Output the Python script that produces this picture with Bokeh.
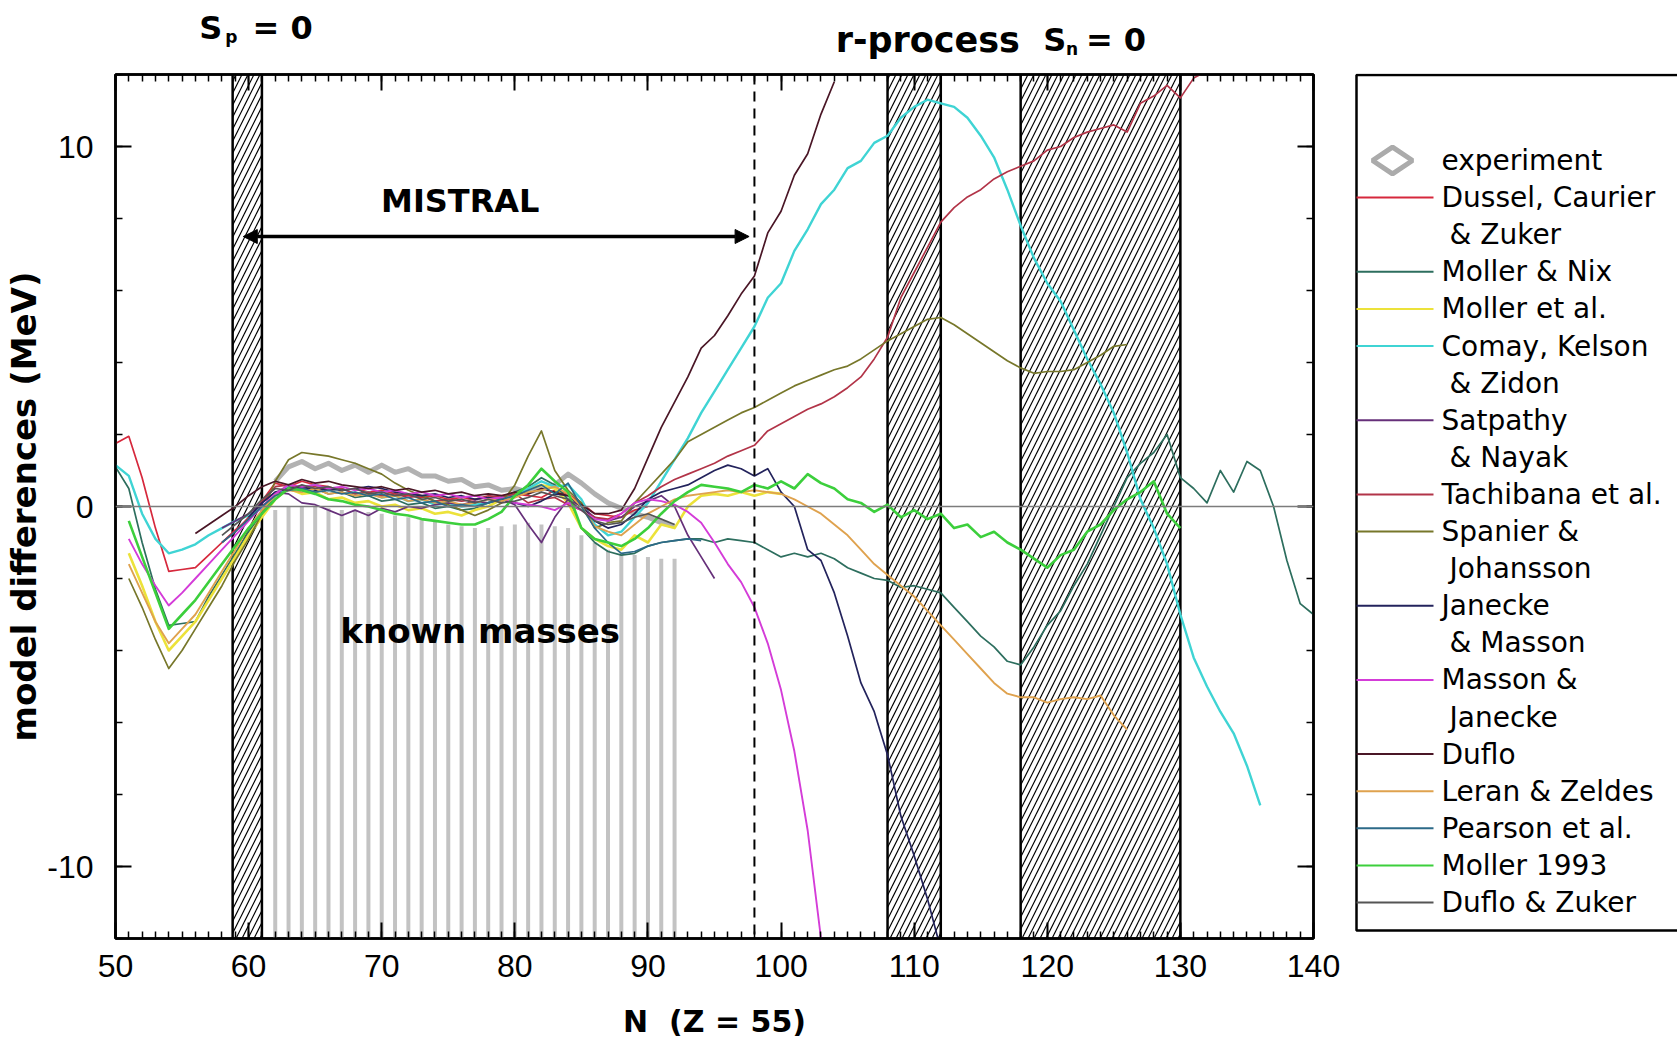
import math
from bokeh.plotting import figure
from bokeh.models import (Range1d, LinearAxis, FixedTicker, Span, Label, Arrow, NormalHead,
                          CustomLabelingPolicy)
from bokeh.layouts import row, column
from bokeh.embed import file_html
from bokeh.resources import INLINE
from bokeh.core.properties import value

# ---------------- data ----------------
# experiment (known masses), N = 62 .. 92
exp_start = 62
experiment = [0.7, 1.1, 1.25, 1.05, 1.2, 1.0, 1.15, 0.95, 1.15, 0.95, 1.05, 0.85, 0.85, 0.7, 0.75,
              0.55, 0.6, 0.45, 0.5, 0.4, 0.5, 0.6, 0.9, 0.65, 0.35, 0.1, -0.05, -0.2, -0.3, -0.45, -0.55]
known_top = [-0.1, 0.0, 0.0, 0.0, -0.05, -0.1, -0.1, -0.15, -0.2, -0.25, -0.3, -0.35, -0.4, -0.5, -0.55,
             -0.6, -0.6, -0.55, -0.5, -0.45, -0.5, -0.55, -0.6, -0.8, -1.0, -1.2, -1.3, -1.35, -1.4, -1.45, -1.45]

dussel_start = 50
dussel = [1.75, 1.95, 0.8, -0.6, -1.8, -1.75, -1.7, -1.35, -1.0, -0.65, -0.35, 0.15, 0.65, 0.55, 0.7, 0.6,
          0.55, 0.45, 0.5, 0.4, 0.45, 0.35, 0.3, 0.25, 0.3, 0.2, 0.25, 0.2, 0.25, 0.3, 0.35, 0.3, 0.25, 0.45,
          0.35, 0.1, -0.2, -0.25, -0.3, -0.1, 0.0]

moller_nix_start = 50
moller_nix = [1.1, 0.5, -1.0, -2.3, -3.3, -3.25, -3.2, -2.5, -1.9, -1.3, -0.7, -0.2, 0.3, 0.55, 0.45, 0.5,
              0.35, 0.4, 0.25, 0.3, 0.15, 0.2, 0.05, 0.1, -0.05, 0.0, -0.1, -0.05, 0.1, 0.25, 0.4, 0.55, 0.8,
              0.6, 0.2, -0.6, -1.0, -1.25, -1.35, -1.3, -1.1, -1.0, -0.95, -0.9, -0.9, -1.0, -0.9, -0.95, -1.0,
              -1.2, -1.4, -1.3, -1.4, -1.3, -1.45, -1.7, -1.85, -2.0, -2.05, -2.25, -2.2, -2.3, -2.4, -2.8,
              -3.2, -3.6, -3.9, -4.3, -4.4, -3.9, -3.3, -2.9, -2.2, -1.6, -0.8, 0.0, 0.8, 1.2, 1.5, 2.0, 0.8,
              0.5, 0.1, 1.0, 0.4, 1.25, 1.0, 0.0, -1.5, -2.7, -3.0]

moller_etal_start = 51
moller_etal = [-1.3, -2.2, -3.2, -4.0, -3.6, -3.2, -2.6, -2.0, -1.4, -0.8, -0.3, 0.2, 0.5, 0.35, 0.4, 0.2,
               0.25, 0.1, 0.15, 0.0, 0.05, -0.1, -0.05, -0.2, -0.15, -0.25, -0.1, 0.0, 0.2, 0.35, 0.5, 0.6,
               0.5, 0.1, -0.6, -0.9, -1.1, -1.2, -0.8, -1.0, -0.5, -0.6, 0.0, 0.3, 0.35, 0.3, 0.4, 0.3, 0.4, 0.35]

comay_start = 50
comay = [1.15, 0.85, -0.2, -0.9, -1.3, -1.2, -1.05, -0.8, -0.6, -0.4, -0.25, -0.05, 0.3, 0.6, 0.5, 0.6,
         0.45, 0.5, 0.35, 0.4, 0.25, 0.3, 0.15, 0.2, 0.05, 0.1, 0.0, 0.05, 0.1, 0.25, 0.3, 0.5, 0.7, 0.55,
         0.6, 0.2, -0.5, -0.8, -0.7, -0.3, 0.1, 0.7, 1.3, 1.9, 2.6, 3.2, 3.8, 4.4, 5.0, 5.8, 6.2, 7.1, 7.7,
         8.4, 8.8, 9.4, 9.6, 10.1, 10.3, 10.8, 11.1, 11.3, 11.2, 11.1, 10.8, 10.3, 9.7, 8.8, 7.8, 6.9, 6.2,
         5.7, 4.9, 4.1, 3.4, 2.6, 1.5, 0.2, -0.6, -1.6, -3.0, -4.2, -5.0, -5.7, -6.3, -7.2, -8.3]

satpathy_start = 58
satpathy = [-0.6, -0.4, -0.2, 0.1, 0.4, 0.35, 0.1, 0.05, -0.1, -0.25, -0.1, -0.25, -0.05, -0.15, 0.0,
            -0.05, 0.05, 0.1, 0.05, 0.15, 0.1, 0.2, 0.05, -0.5, -1.0, -0.3, 0.2, 0.0, -0.3, -0.4, -0.3,
            0.0, 0.15, 0.3, 0.0, -0.8, -1.4, -2.0]

tachibana_start = 58
tachibana = [-1.0, -0.7, -0.3, 0.1, 0.55, 0.6, 0.5, 0.55, 0.45, 0.5, 0.35, 0.4, 0.3, 0.35, 0.25, 0.3,
             0.15, 0.2, 0.15, 0.2, 0.3, 0.25, 0.35, 0.1, 0.2, 0.25, 0.05, -0.1, -0.3, -0.35, -0.2, 0.1,
             0.3, 0.55, 0.75, 0.9, 1.05, 1.2, 1.4, 1.55, 1.7, 2.1, 2.3, 2.5, 2.7, 2.85, 3.05, 3.3, 3.6,
             4.1, 4.7, 5.8, 6.5, 7.2, 7.9, 8.3, 8.6, 8.8, 9.1, 9.3, 9.45, 9.6, 9.9, 10.0, 10.25, 10.4,
             10.5, 10.6, 10.4, 11.2, 11.4, 11.7, 11.35, 11.9, 12.1]

spanier_start = 51
spanier = [-2.0, -2.8, -3.7, -4.5, -4.0, -3.4, -2.8, -2.2, -1.5, -0.9, -0.2, 0.7, 1.3, 1.5, 1.45, 1.4,
           1.3, 1.2, 1.05, 0.9, 0.65, 0.45, 0.3, 0.15, 0.05, -0.1, -0.25, -0.1, 0.1, 0.6, 1.4, 2.1, 1.0,
           0.45, 0.1, -0.6, -0.45, -0.4, 0.1, 0.5, 0.9, 1.3, 1.8, 2.0, 2.2, 2.4, 2.6, 2.75, 2.95, 3.15,
           3.35, 3.5, 3.65, 3.8, 3.9, 4.1, 4.35, 4.6, 4.8, 5.0, 5.2, 5.25, 5.05, 4.8, 4.55, 4.3, 4.05,
           3.85, 3.7, 3.75, 3.75, 3.8, 4.0, 4.2, 4.45, 4.5]

janecke_masson_start = 60
janecke_masson = [-0.3, 0.1, 0.4, 0.5, 0.55, 0.45, 0.5, 0.45, 0.5, 0.55, 0.5, 0.4, 0.35, 0.3, 0.35, 0.25,
                  0.3, 0.2, 0.25, 0.2, 0.1, 0.0, 0.15, 0.35, 0.3, 0.0, -0.4, -0.6, -0.5, -0.2, 0.2, 0.4,
                  0.5, 0.6, 0.8, 1.0, 1.15, 1.05, 0.85, 1.05, 0.4, 0.0, -1.2, -1.5, -2.4, -3.6, -4.9, -5.7,
                  -6.9, -8.6, -9.7, -10.9, -12.3]

masson_janecke_start = 51
masson_janecke = [-0.9, -1.6, -2.2, -2.75, -2.4, -2.0, -1.6, -1.2, -0.8, -0.4, 0.0, 0.35, 0.6, 0.55, 0.6,
                  0.5, 0.55, 0.45, 0.5, 0.4, 0.45, 0.35, 0.4, 0.3, 0.35, 0.25, 0.3, 0.2, 0.25, 0.1, 0.05,
                  0.0, -0.1, 0.1, -0.1, -0.35, -0.4, -0.2, 0.1, 0.2, 0.15, 0.05, -0.15, -0.45, -1.0, -1.6,
                  -2.1, -2.8, -3.8, -5.1, -6.8, -9.0, -12.0]

duflo_start = 56
duflo = [-0.75, -0.5, -0.25, 0.0, 0.3, 0.55, 0.7, 0.6, 0.75, 0.65, 0.7, 0.6, 0.55, 0.5, 0.55, 0.45, 0.5,
         0.4, 0.45, 0.35, 0.4, 0.3, 0.35, 0.3, 0.4, 0.35, 0.5, 0.4, 0.3, 0.05, -0.2, -0.2, -0.1, 0.5, 1.35,
         2.2, 2.9, 3.6, 4.4, 4.75, 5.3, 5.9, 6.4, 7.6, 8.2, 9.2, 9.8, 10.9, 11.8]

leran_start = 51
leran = [-1.6, -2.4, -3.2, -3.8, -3.4, -3.0, -2.4, -1.8, -1.2, -0.6, -0.1, 0.3, 0.45, 0.4, 0.5, 0.35, 0.4,
         0.3, 0.35, 0.25, 0.3, 0.15, 0.2, 0.1, 0.15, 0.05, 0.1, 0.2, 0.15, 0.25, 0.4, 0.45, 0.55, 0.35, 0.0,
         -0.55, -0.7, -0.8, -0.5, -0.2, 0.0, 0.2, 0.3, 0.35, 0.4, 0.45, 0.4, 0.45, 0.4, 0.35, 0.2, 0.0,
         -0.2, -0.5, -0.8, -1.2, -1.6, -1.9, -2.2, -2.5, -2.9, -3.3, -3.7, -4.1, -4.5, -4.9, -5.2, -5.3,
         -5.3, -5.45, -5.35, -5.3, -5.35, -5.25, -5.8, -6.2]

pearson_start = 58
pearson = [-1.0, -0.7, -0.35, 0.0, 0.3, 0.45, 0.5, 0.4, 0.45, 0.35, 0.4, 0.3, 0.35, 0.2, 0.25, 0.1, 0.15,
           0.0, 0.05, 0.0, 0.1, 0.2, 0.3, 0.45, 0.6, 0.35, 0.65, 0.0, -0.6, -1.0, -1.3, -1.25, -1.1, -1.0,
           -0.95, -0.9, -0.95]

moller1993_start = 51
moller1993 = [-0.4, -1.4, -2.4, -3.4, -3.0, -2.6, -2.1, -1.6, -1.1, -0.6, -0.2, 0.2, 0.5, 0.45, 0.35, 0.2,
              0.15, 0.05, 0.0, -0.1, -0.2, -0.25, -0.35, -0.4, -0.45, -0.5, -0.5, -0.35, -0.15, 0.3, 0.6,
              1.05, 0.7, 0.4, -0.6, -0.9, -1.0, -1.1, -0.9, -0.6, -0.2, 0.15, 0.4, 0.6, 0.55, 0.5, 0.4, 0.6,
              0.5, 0.7, 0.5, 0.9, 0.65, 0.5, 0.2, 0.1, -0.15, 0.05, -0.3, -0.1, -0.35, -0.2, -0.6, -0.5,
              -0.85, -0.7, -1.0, -1.2, -1.45, -1.7, -1.35, -1.2, -0.7, -0.5, -0.1, 0.2, 0.4, 0.7, -0.2, -0.6]

duflo_zuker_start = 58
duflo_zuker = [-0.8, -0.5, -0.2, 0.2, 0.5, 0.45, 0.6, 0.5, 0.55, 0.45, 0.5, 0.35, 0.4, 0.3, 0.35, 0.2, 0.25,
               0.15, 0.2, 0.1, 0.2, 0.1, 0.15, 0.25, 0.4, 0.3, 0.2, -0.1, -0.4, -0.5, -0.45, -0.3, -0.2,
               -0.35, -0.5]

# hatched regions (drip lines / r-process path)
band_left = [58.8, 108, 118]
band_right = [61, 112, 130]
mistral_limit = 98

# ---------------- styling ----------------
models = [
    (["Dussel, Caurier", "& Zuker"], dussel_start, dussel, "#d6283c", 1.7),
    (["Moller & Nix"], moller_nix_start, moller_nix, "#2d6e5e", 1.7),
    (["Moller et al."], moller_etal_start, moller_etal, "#ece23a", 2.6),
    (["Comay, Kelson", "& Zidon"], comay_start, comay, "#3fd4d4", 2.4),
    (["Satpathy", "& Nayak"], satpathy_start, satpathy, "#66307a", 1.7),
    (["Tachibana et al."], tachibana_start, tachibana, "#b23448", 1.7),
    (["Spanier &", "Johansson"], spanier_start, spanier, "#77772a", 1.7),
    (["Janecke", "& Masson"], janecke_masson_start, janecke_masson, "#23235c", 1.7),
    (["Masson &", "Janecke"], masson_janecke_start, masson_janecke, "#d43cd8", 1.9),
    (["Duflo"], duflo_start, duflo, "#4a1626", 1.7),
    (["Leran & Zeldes"], leran_start, leran, "#dfa24e", 1.9),
    (["Pearson et al."], pearson_start, pearson, "#2c6a88", 1.7),
    (["Moller 1993"], moller1993_start, moller1993, "#3ccf3c", 2.6),
    (["Duflo & Zuker"], duflo_zuker_start, duflo_zuker, "#555555", 1.7),
]

FONT = "DejaVu Sans"
TICKFONT = "Liberation Sans"
HEAD_H = 70

x_range = Range1d(50, 140)

# ---------------- header (texts above the frame) ----------------
head = figure(width=1340, height=HEAD_H, x_range=x_range, y_range=Range1d(HEAD_H, 0),
              output_backend="svg", toolbar_location=None, title_location=None,
              min_border_left=115, min_border_right=27, min_border_top=0, min_border_bottom=0,
              x_axis_location=None, y_axis_location=None)
head.xgrid.visible = False
head.ygrid.visible = False
head.outline_line_color = None

def htext(x, y, t, size):
    head.text(x=[x], y=[y], text=[t], text_font=value(FONT), text_font_style="bold",
              text_font_size=size, text_align="left", text_baseline="alphabetic",
              text_color="black")

htext(56.3, 27, "S", "32px")
htext(58.25, 36, "p", "17px")
htext(60.3, 27, "= 0", "32px")
htext(104.1, 39, "r-process", "35px")
htext(119.7, 39, "S", "32px")
htext(121.4, 48, "n", "17px")
htext(122.9, 39, "= 0", "32px")

# ---------------- main plot ----------------
p = figure(width=1340, height=1050 - HEAD_H, x_range=x_range, y_range=Range1d(-12, 12),
           output_backend="svg", toolbar_location=None,
           min_border_left=115, min_border_right=27, min_border_top=3, min_border_bottom=112)
p.xgrid.visible = False
p.ygrid.visible = False
p.outline_line_color = "black"
p.outline_line_width = 2.5

xticker = FixedTicker(ticks=list(range(50, 141, 10)), minor_ticks=list(range(50, 141)))
yticker = FixedTicker(ticks=[-10, 0, 10], minor_ticks=list(range(-12, 13, 2)))

p.add_layout(LinearAxis(), "above")
p.add_layout(LinearAxis(), "right")

for ax in p.xaxis:
    ax.ticker = xticker
for ax in p.yaxis:
    ax.ticker = yticker

for ax in p.xaxis + p.yaxis:
    ax.axis_line_width = 2.5
    ax.axis_line_color = "black"
    ax.major_tick_in = 16
    ax.major_tick_out = 0
    ax.minor_tick_in = 7
    ax.minor_tick_out = 0
    ax.major_tick_line_width = 2
    ax.minor_tick_line_width = 1.5
    ax.major_label_text_font = TICKFONT
    ax.major_label_text_font_size = "32px"
    ax.major_label_text_color = "black"

p.below[0].major_label_standoff = 16
p.left[0].major_label_standoff = 22
p.left[0].major_label_overrides = {-10: "-10", 0: "0", 10: "10"}
for ax in (p.above[0], p.right[0]):
    ax.major_label_text_font_size = "1px"
    ax.major_label_standoff = 0
    ax.major_label_policy = CustomLabelingPolicy(code="return []")

p.below[0].axis_label = "N\u00a0\u00a0(Z = 55)"
p.left[0].axis_label = "model differences (MeV)"
p.below[0].axis_label_text_font_size = "30px"
p.left[0].axis_label_text_font_size = "34px"
for ax in (p.below[0], p.left[0]):
    ax.axis_label_text_font = FONT
    ax.axis_label_text_font_style = "bold"
    ax.axis_label_text_color = "black"
p.below[0].axis_label_standoff = 24
p.left[0].axis_label_standoff = 0

# hatched bands
p.quad(left=band_left, right=band_right, bottom=-12, top=12, fill_color="white",
       line_color="black", line_width=2.5, hatch_pattern="/", hatch_color="black",
       hatch_scale=12, hatch_weight=1.2)

# known masses stripes
known_n = list(range(exp_start, exp_start + len(known_top)))
p.vbar(x=known_n, top=known_top, bottom=-12, width=0.3, fill_color="#c3c3c3", line_color=None)

# zero line and MISTRAL limit
p.add_layout(Span(location=0, dimension="width", line_color="#7c7c7c", line_width=1.6))
p.add_layout(Span(location=mistral_limit, dimension="height", line_color="black",
                  line_width=2, line_dash="10 7"))

# experiment
exp_n = list(range(exp_start, exp_start + len(experiment)))
p.line(exp_n, experiment, line_color="#b2b2b2", line_width=5, line_join="round")

# models
for names, start, vals, col, lw in models:
    ns = list(range(start, start + len(vals)))
    p.line(ns, vals, line_color=col, line_width=lw, line_join="round")

# MISTRAL arrow and labels
p.add_layout(Arrow(start=NormalHead(size=14, fill_color="black", line_color="black"),
                   end=NormalHead(size=14, fill_color="black", line_color="black"),
                   x_start=59.6, y_start=7.5, x_end=mistral_limit - 0.4, y_end=7.5,
                   line_width=3.5, line_color="black"))

def lab(x, y, t, size):
    p.add_layout(Label(x=x, y=y, text=t, text_font=FONT, text_font_style="bold",
                       text_font_size=size, text_align="center", text_baseline="middle",
                       text_color="black"))

lab(75.9, 8.5, "MISTRAL", "32px")
lab(77.4, -3.45, "known masses", "34px")

# ---------------- legend panel ----------------
LG_TOP, LG_BOT = 73, 938
lg = figure(width=337, height=1050, x_range=Range1d(0, 337), y_range=Range1d(LG_BOT, LG_TOP),
            output_backend="svg", toolbar_location=None, title_location=None,
            min_border_left=0, min_border_right=0, min_border_top=LG_TOP,
            min_border_bottom=1050 - LG_BOT,
            x_axis_location=None, y_axis_location=None)
lg.xgrid.visible = False
lg.ygrid.visible = False
lg.outline_line_color = None

lg.quad(left=[16], right=[420], top=[74.5], bottom=[930], fill_color=None,
        line_color="black", line_width=2.5)

row_h = 37.1
y0 = 160
lg.scatter(x=[52], y=[y0], marker="diamond", size=40, angle=math.pi / 2,
           fill_color=None, line_color="#ababab", line_width=5)
lg.text(x=[101], y=[y0], text=["experiment"], text_font=value(FONT), text_font_size="28px",
        text_baseline="middle", text_align="left", text_color="black")

line_idx = 1
for names, start, vals, col, lw in models:
    yy = y0 + row_h * line_idx
    lg.segment(x0=[16], y0=[yy], x1=[93], y1=[yy], line_color=col, line_width=2)
    for k, t in enumerate(names):
        lg.text(x=[101 + (8 if k > 0 else 0)], y=[y0 + row_h * line_idx], text=[t],
                text_font=value(FONT), text_font_size="28px", text_baseline="middle",
                text_align="left", text_color="black")
        line_idx += 1

layout = row(column(head, p), lg)
open("out.html", "w").write(file_html(layout, INLINE, "model differences"))
